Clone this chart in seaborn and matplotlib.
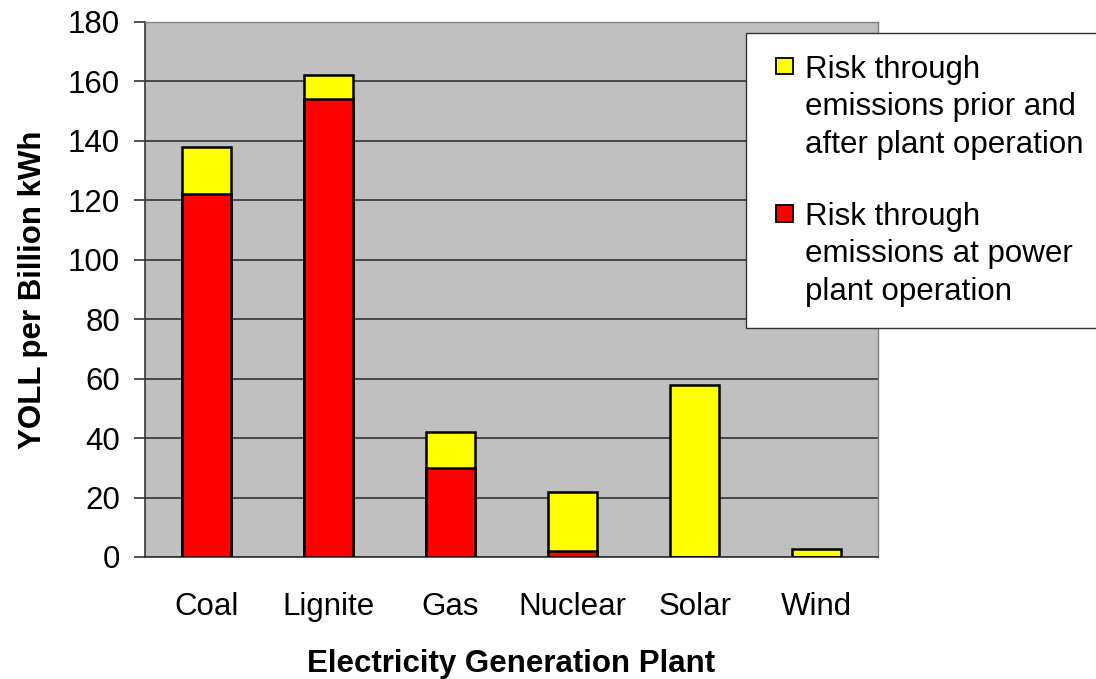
import matplotlib
matplotlib.use("Agg")
import matplotlib.pyplot as plt
import seaborn as sns
import numpy as np
import pandas as pd
from matplotlib.patches import Patch, Rectangle
from matplotlib.legend_handler import HandlerBase

# Years of life lost per billion kWh, by plant type
plants = ["Coal", "Lignite", "Gas", "Nuclear", "Solar", "Wind"]
at_operation = [122, 154, 30, 2, 0, 0]
prior_after = [16, 8, 12, 20, 58, 2.6]

label_prior = "Risk through\nemissions prior and\nafter plant operation"
label_oper = "Risk through\nemissions at power\nplant operation"

totals = [a + b for a, b in zip(at_operation, prior_after)]
df = pd.DataFrame({"plant": plants, "oper": at_operation, "total": totals})

FS = 22.5
LEG_LINESPACING = 1.33

sns.set_style("white")
plt.rcParams["font.family"] = ["Liberation Sans", "DejaVu Sans"]
plt.rcParams["text.color"] = "black"
plt.rcParams["axes.labelcolor"] = "black"
plt.rcParams["xtick.color"] = "black"
plt.rcParams["ytick.color"] = "black"


class TopLineSquare(HandlerBase):
    """Small square key aligned with the first line of a multi-line label."""

    def create_artists(self, legend, orig_handle, xdescent, ydescent,
                       width, height, fontsize, trans):
        size = 0.52 * fontsize
        x0 = -xdescent + width - size
        y0 = -ydescent + (height - size) / 2 + LEG_LINESPACING * fontsize
        sq = Rectangle((x0, y0), size, size,
                       facecolor=orig_handle.get_facecolor(),
                       edgecolor="black", linewidth=1.3, transform=trans)
        return [sq]


fig = plt.figure(figsize=(10.96, 6.79), dpi=100)
ax = fig.add_axes([0.1323, 0.1797, 0.6687, 0.7879])
ax.set_facecolor("#C0C0C0")

ax.set_ylim(0, 180)
ax.set_yticks(np.arange(0, 181, 20))
ax.yaxis.grid(True, color="#333333", linewidth=1.2)
ax.set_axisbelow(True)

sns.barplot(data=df, x="plant", y="total", color="#FFFF00", saturation=1,
            edgecolor="black", linewidth=1.8, width=0.4, ax=ax, zorder=2)
sns.barplot(data=df, x="plant", y="oper", color="#FF0000", saturation=1,
            edgecolor="black", linewidth=1.8, width=0.4, ax=ax, zorder=3)

ax.set_xlim(-0.5, len(plants) - 0.5)

for side in ["top", "right"]:
    ax.spines[side].set_visible(True)
    ax.spines[side].set_color("#808080")
    ax.spines[side].set_linewidth(1.0)
for side in ["left", "bottom"]:
    ax.spines[side].set_color("#333333")
    ax.spines[side].set_linewidth(1.2)

# Category separators as outward ticks on the x axis
ax.set_xticks(np.arange(-0.5, len(plants), 1.0), minor=True)
ax.tick_params(axis="x", which="minor", length=8, width=1.2, color="#333333", direction="out")
ax.tick_params(axis="x", which="major", length=0, pad=25, labelsize=FS)
ax.tick_params(axis="y", length=8, width=1.2, color="#333333", direction="out",
               left=True, labelsize=FS, pad=10)

ax.set_xlabel("Electricity Generation Plant", fontsize=FS, fontweight="bold", labelpad=20)
ax.set_ylabel("YOLL per Billion kWh", fontsize=FS, fontweight="bold", labelpad=14)

handles = [Patch(facecolor="#FFFF00", edgecolor="black", label=label_prior),
           Patch(facecolor="#FF0000", edgecolor="black", label=label_oper)]
leg = fig.legend(handles=handles, loc="upper left", bbox_to_anchor=(0.681, 0.951),
                 fontsize=FS, frameon=True, fancybox=False, framealpha=1,
                 edgecolor="#333333", handlelength=0.8, handleheight=0.7,
                 handletextpad=0.38, labelspacing=1.35, borderpad=0.68,
                 borderaxespad=0, handler_map={Patch: TopLineSquare()})
leg.get_frame().set_linewidth(1.0)
for txt in leg.get_texts():
    txt.set_linespacing(LEG_LINESPACING)

fig.savefig("out.png", dpi=100, facecolor="white")
